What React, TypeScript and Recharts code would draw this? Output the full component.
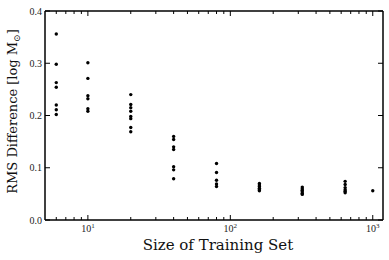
import { Scatter, ScatterChart, XAxis, YAxis } from 'recharts'

const sizes = [6, 10, 20, 40, 80, 160, 320, 640, 1000]
const rmsAt6 = [0.356, 0.298, 0.263, 0.254, 0.22, 0.211, 0.202]
const rmsAt10 = [0.301, 0.271, 0.238, 0.232, 0.213, 0.208]
const rmsAt20 = [0.24, 0.221, 0.215, 0.208, 0.198, 0.194, 0.177, 0.169]
const rmsAt40 = [0.16, 0.154, 0.14, 0.135, 0.102, 0.096, 0.079]
const rmsAt80 = [0.108, 0.091, 0.076, 0.069, 0.064]
const rmsAt160 = [0.07, 0.067, 0.064, 0.061, 0.058, 0.056]
const rmsAt320 = [0.063, 0.06, 0.057, 0.054, 0.051, 0.049]
const rmsAt640 = [0.074, 0.068, 0.062, 0.058, 0.055, 0.052]
const rmsAt1000 = [0.056]
const rmsBySize = [rmsAt6, rmsAt10, rmsAt20, rmsAt40, rmsAt80, rmsAt160, rmsAt320, rmsAt640, rmsAt1000]

const xMajor = [10, 100, 1000]
const xMinor = [6, 7, 8, 9, 20, 30, 40, 50, 60, 70, 80, 90, 200, 300, 400, 500, 600, 700, 800, 900]
const yTicks = [0, 0.1, 0.2, 0.3, 0.4]
const yTickLabels = ['0.0', '0.1', '0.2', '0.3', '0.4']

const points = sizes.flatMap((n, i) => rmsBySize[i].map((rms) => ({ n, rms })))
const xTicks = [...xMinor, ...xMajor].sort((a, b) => a - b)

const FONT = '"Liberation Serif", "DejaVu Serif", serif'
const TITLE_FONT = '"DejaVu Serif", serif'
const xDomain: [number, number] = [5, 1180]

function XTick(props: any) {
  const { x, y, payload, side } = props
  const v = payload.value as number
  const major = xMajor.includes(v)
  const len = major ? 5 : 3
  const dir = side === 'top' ? 1 : -1
  return (
    <g>
      <line x1={x} y1={y} x2={x} y2={y + dir * len} stroke="#000" strokeWidth={1} />
      {side === 'bottom' && major && (
        <text x={x} y={y + 12} textAnchor="middle" fontFamily={FONT} fontSize={10} fill="#222">
          10
          <tspan dy={-4} fontSize={7}>
            {Math.round(Math.log10(v))}
          </tspan>
        </text>
      )}
    </g>
  )
}

function YTick(props: any) {
  const { x, y, payload, side } = props
  const dir = side === 'right' ? -1 : 1
  const i = yTicks.indexOf(payload.value)
  return (
    <g>
      <line x1={x} y1={y} x2={x + dir * 5} y2={y} stroke="#000" strokeWidth={1} />
      {side === 'left' && (
        <text x={x - 3} y={y + 3.5} textAnchor="end" fontFamily={FONT} fontSize={10} fill="#222">
          {yTickLabels[i]}
        </text>
      )}
    </g>
  )
}

function YTitle(props: any) {
  const vb = props.viewBox
  const cx = vb.x + 17
  const cy = vb.y + vb.height / 2 - 4
  return (
    <text
      x={cx}
      y={cy}
      transform={`rotate(-90, ${cx}, ${cy})`}
      textAnchor="middle"
      fontFamily={TITLE_FONT}
      fontSize={13}
      fill="#111"
    >
      RMS Difference [log M
      <tspan dy={3} fontSize={9}>
        ⊙
      </tspan>
      <tspan dy={-3}>]</tspan>
    </text>
  )
}

function XTitle(props: any) {
  const vb = props.viewBox
  return (
    <text
      x={vb.x + vb.width / 2 + 4}
      y={vb.y + 30}
      textAnchor="middle"
      fontFamily={TITLE_FONT}
      fontSize={15}
      fill="#111"
    >
      Size of Training Set
    </text>
  )
}

function Dot(props: any) {
  return <circle cx={props.cx} cy={props.cy} r={1.7} fill="#000" />
}

export default function App() {
  return (
    <div style={{ position: 'absolute', left: 0, top: 0, background: '#fff' }}>
      <ScatterChart width={389} height={260} margin={{ top: 0, right: 0, bottom: 0, left: 0 }}>
        <XAxis
          xAxisId="bottom"
          dataKey="n"
          type="number"
          scale="log"
          domain={xDomain}
          allowDataOverflow
          ticks={xTicks}
          interval={0}
          height={40}
          tickSize={0}
          tickMargin={0}
          tickLine={false}
          axisLine={{ stroke: '#000', strokeWidth: 1.5 }}
          tick={(p: any) => <XTick {...p} side="bottom" />}
          label={<XTitle />}
        />
        <XAxis
          xAxisId="top"
          orientation="top"
          dataKey="n"
          type="number"
          scale="log"
          domain={xDomain}
          allowDataOverflow
          ticks={xTicks}
          interval={0}
          height={11}
          tickSize={0}
          tickMargin={0}
          tickLine={false}
          axisLine={{ stroke: '#000', strokeWidth: 1.5 }}
          tick={(p: any) => <XTick {...p} side="top" />}
        />
        <YAxis
          yAxisId="left"
          dataKey="rms"
          type="number"
          domain={[0, 0.4]}
          allowDataOverflow
          ticks={yTicks}
          interval={0}
          width={45}
          tickSize={0}
          tickMargin={0}
          tickLine={false}
          axisLine={{ stroke: '#000', strokeWidth: 1.5 }}
          tick={(p: any) => <YTick {...p} side="left" />}
          label={<YTitle />}
        />
        <YAxis
          yAxisId="right"
          orientation="right"
          dataKey="rms"
          type="number"
          domain={[0, 0.4]}
          allowDataOverflow
          ticks={yTicks}
          interval={0}
          width={6}
          tickSize={0}
          tickMargin={0}
          tickLine={false}
          axisLine={{ stroke: '#000', strokeWidth: 1.5 }}
          tick={(p: any) => <YTick {...p} side="right" />}
        />
        <Scatter
          data={points}
          xAxisId="bottom"
          yAxisId="left"
          fill="#000"
          shape={<Dot />}
          isAnimationActive={false}
        />
      </ScatterChart>
    </div>
  )
}
